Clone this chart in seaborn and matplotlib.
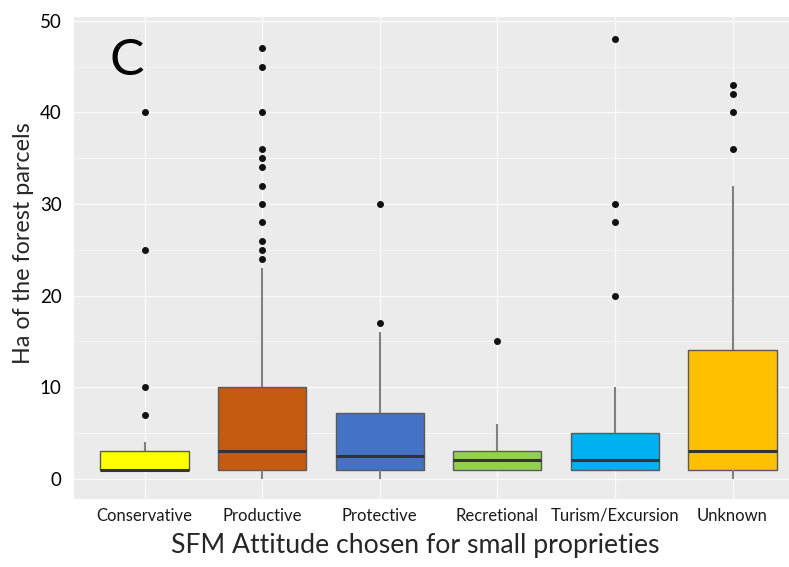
import numpy as np
import pandas as pd
import matplotlib
matplotlib.use("Agg")
import matplotlib.pyplot as plt
import seaborn as sns

# ---- data (box statistics per category) ----
categories = ["Conservative", "Productive", "Protective", "Recretional",
              "Turism/Excursion", "Unknown"]
whisker_low = [1, 0, 0, 1, 1, 0]
q1 = [1, 1, 1, 1, 1, 1]
median = [1, 3, 2.5, 2, 2, 3]
q3 = [3, 10, 7.2, 3, 5, 14]
whisker_high = [4, 23, 16, 6, 10, 32]
outliers = [
    [7, 10, 25, 40],
    [24, 25, 26, 28, 30, 32, 34, 35, 36, 40, 45, 47],
    [17, 30],
    [15],
    [20, 28, 30, 48],
    [36, 40, 42, 43],
]
colors = ["#FFFF00", "#C55A11", "#4472C4", "#92D050", "#00B0F0", "#FFC000"]


def sample_from_stats(lo, a, m, b, hi, out):
    """Deterministic sample whose quartiles/whiskers/fliers equal the given stats."""
    upper = [hi] + sorted(out)
    k = max(len(upper), 2)
    upper = [b] * (k - len(upper)) + upper
    vals = ([lo] + [a] * (k - 1) + [a] + [m] * (k - 1) + [m] +
            [m] * (k - 1) + [b] + upper)
    return vals


rows = []
for i, c in enumerate(categories):
    for v in sample_from_stats(whisker_low[i], q1[i], median[i], q3[i],
                               whisker_high[i], outliers[i]):
        rows.append((c, v))
df = pd.DataFrame(rows, columns=["attitude", "ha"])

# ---- figure ----
sns.set_theme(style="darkgrid")
plt.rcParams["font.family"] = ["Lato", "DejaVu Sans"]

fig = plt.figure(figsize=(7.89, 5.67), dpi=100)
W, H = 789, 567
left, right, top, bottom = 74, 789, 16.7, 499.3
ax = fig.add_axes([left / W, 1 - bottom / H, (right - left) / W, (bottom - top) / H])
ax.set_facecolor("#EBEBEB")

sns.boxplot(
    data=df, x="attitude", y="ha", hue="attitude", order=categories,
    hue_order=categories, palette=colors, saturation=1, width=0.75,
    showcaps=False, legend=False, ax=ax, linewidth=1.0, linecolor="#5a5a5a",
    boxprops=dict(edgecolor="#5a5a5a", linewidth=1.0),
    whiskerprops=dict(color="#808080", linewidth=1.5),
    medianprops=dict(color="#333333", linewidth=2.2),
    flierprops=dict(marker="o", markerfacecolor="#111111",
                    markeredgecolor="#111111", markersize=4),
)

ax.set_xlim(-0.6, (right - left) / 117.6 - 0.6)
ax.set_ylim(-2.25, 50.45)
ax.set_yticks([0, 10, 20, 30, 40, 50])
ax.set_yticks([5, 15, 25, 35, 45], minor=True)
ax.grid(True, which="major", color="#FAFAFA", linewidth=1.0)
ax.grid(True, which="minor", axis="y", color="#F6F6F6", linewidth=0.6)
ax.set_axisbelow(True)
for s in ax.spines.values():
    s.set_visible(False)

ax.tick_params(axis="y", which="major", length=3, width=0.8, color="#444444",
               labelsize=13.5, pad=6, labelcolor="black")
ax.tick_params(axis="y", which="minor", length=0)
ax.tick_params(axis="x", length=3, width=0.8, color="#444444",
               labelsize=12, pad=3, labelcolor="#1a1a1a")

ax.set_xlabel("SFM Attitude chosen for small proprieties", fontsize=19.2)
ax.xaxis.label.set_verticalalignment("center")
ax.xaxis.set_label_coords((415 - left) / (right - left), -(546 - bottom) / (bottom - top))
ax.set_ylabel("Ha of the forest parcels", fontsize=16.8)
ax.yaxis.label.set_verticalalignment("center")
ax.yaxis.set_label_coords(-(left - 24) / (right - left), (bottom - 243.5) / (bottom - top))

ax.text(-0.15, 45.6, "C", fontsize=37, ha="center", va="center", color="black")

fig.savefig("out.png", dpi=100)
